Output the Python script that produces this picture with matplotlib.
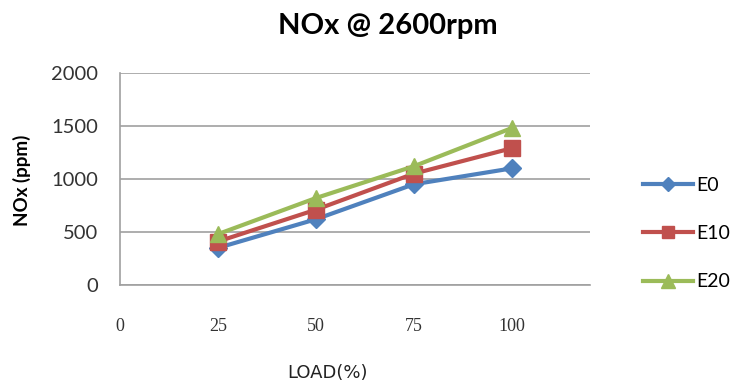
import matplotlib
matplotlib.use("Agg")
import matplotlib.pyplot as plt

# NOx emissions vs engine load at 2600 rpm
load = [25, 50, 75, 100]
nox_e0 = [350, 620, 950, 1100]
nox_e10 = [410, 710, 1050, 1290]
nox_e20 = [480, 820, 1120, 1480]
x_ticks = [0, 25, 50, 75, 100]
y_ticks = [0, 500, 1000, 1500, 2000]

fig = plt.figure(figsize=(7.33, 3.87), dpi=100)
ax = fig.add_axes([0.1637, 0.2636, 0.6413, 0.5478])

ax.plot(load, nox_e0, color="#4F81BD", lw=3, marker="D", ms=9, label="E0")
ax.plot(load, nox_e10, color="#C0504D", lw=3, marker="s", ms=11, label="E10")
ax.plot(load, nox_e20, color="#9BBB59", lw=3, marker="^", ms=12, label="E20")

ax.set_xlim(0, 120)
ax.set_ylim(0, 2000)
ax.set_xticks(x_ticks)
ax.set_yticks(y_ticks)
ax.yaxis.grid(True, color="#A0A0A0", lw=1.2)
ax.set_axisbelow(True)
for side in ["top", "right"]:
    ax.spines[side].set_visible(False)
for side in ["left", "bottom"]:
    ax.spines[side].set_color("#A0A0A0")
    ax.spines[side].set_linewidth(1.2)

ax.tick_params(axis="x", length=0, pad=24, labelsize=13, labelcolor="#333333")
ax.tick_params(axis="y", length=0, pad=16, labelsize=14.5, labelcolor="#333333")
for lbl in ax.get_xticklabels():
    lbl.set_family("Liberation Serif")
for lbl in ax.get_yticklabels():
    lbl.set_family("Lato")

fig.text(0.529, 0.933, "NOx @ 2600rpm", ha="center", va="center",
         fontsize=21, fontweight="bold", family="Lato")
fig.text(0.03, 0.535, "NOx (ppm)", ha="center", va="center", rotation=90,
         fontsize=13.5, fontweight="bold", family="Lato")
fig.text(0.447, 0.036, "LOAD(%)", ha="center", va="center",
         fontsize=13, family="DejaVu Sans", color="#222222")

leg = ax.legend(loc="center left", bbox_to_anchor=(0.877, 0.396),
                bbox_transform=fig.transFigure, frameon=False,
                prop={"family": "Lato", "size": 14}, labelspacing=1.6,
                handlelength=2.6, handletextpad=0.15, markerscale=0.8,
                borderpad=0, borderaxespad=0)

fig.savefig("out.png", dpi=100)
